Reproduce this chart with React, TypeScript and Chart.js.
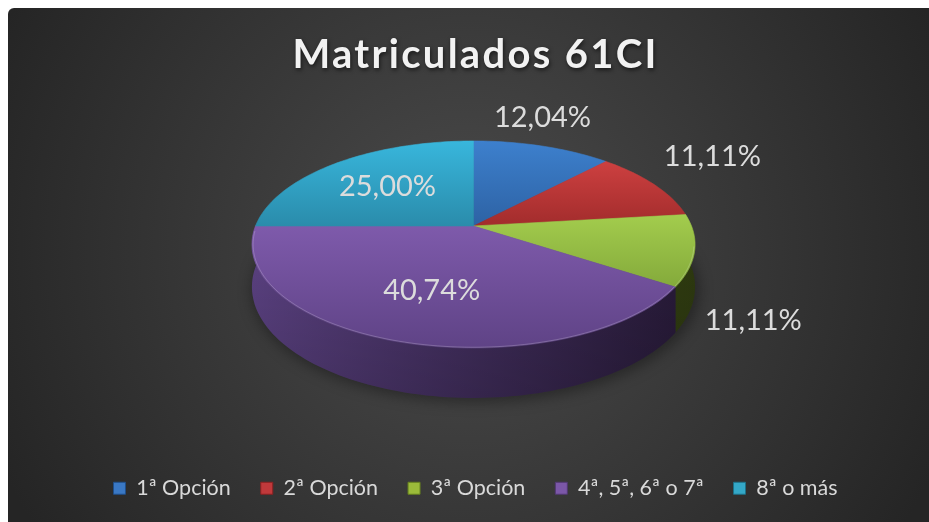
import React, { useEffect, useRef } from "react";
import { Chart, registerables, ArcElement, PieController } from "chart.js";
Chart.register(...registerables);

const categories = ["1ª Opción", "2ª Opción", "3ª Opción", "4ª, 5ª, 6ª o 7ª", "8ª o más"];
const counts = [13, 12, 12, 44, 27];
const topLight = ["#3d80cd", "#cd4040", "#a3cc4d", "#7e5aab", "#38b6dc"];
const topDark = ["#2d62a4", "#a22c2c", "#84aa3b", "#5f4386", "#2a8cab"];
const sideLight = ["#254f86", "#7f2020", "#4a5a1e", "#5c4283", "#1f6f88"];
const sideDark = ["#152d4d", "#4a1212", "#2e3a10", "#261936", "#12414f"];
const legendColors = ["#3a78c4", "#c0393b", "#9bbb3a", "#7b57a8", "#34a8c8"];
const legendBorders = ["#1f4f8a", "#8a2020", "#66801e", "#513873", "#1e7189"];

// perspective projection of the pie disc (layout constants)
const PA = 218;
const PB = 100.2;
const PK = -0.1787;
const PD = 41;

const total = counts.reduce((a, b) => a + b, 0);

function apex(canvas: HTMLCanvasElement) {
  return [canvas.width / 2 + 5, canvas.height * 0.4241];
}

function proj(cx: number, cy: number, th: number, f = 1, drop = 0) {
  const u = Math.cos(th) * f;
  const v = Math.sin(th) * f;
  const den = 1 + PK * v;
  return [cx + (PA * u) / den, cy + (PB * v + drop) / den];
}

class Arc3D extends ArcElement {
  static id = "arc3d";
  static defaults = { ...(ArcElement as any).defaults };
  static defaultRoutes = (ArcElement as any).defaultRoutes;
  draw(ctx: CanvasRenderingContext2D) {
    const self: any = this;
    let i = topLight.indexOf(self.options.backgroundColor);
    if (i < 0) i = 0;
    const s0: number = self.startAngle;
    const e0: number = self.endAngle;
    const [cx, cy] = apex(ctx.canvas);
    const N = Math.max(8, Math.ceil(((e0 - s0) / (2 * Math.PI)) * 240));
    ctx.save();
    // side wall (front only)
    if (s0 < Math.PI - 1e-6 && e0 > 0) {
      const s = Math.max(s0, -0.02);
      const e = e0 >= Math.PI - 1e-6 ? Math.PI + 0.04 : e0;
      const g = ctx.createLinearGradient(cx - PA - 6, 0, cx + PA + 6, 0);
      g.addColorStop(0, sideLight[i]);
      g.addColorStop(1, sideDark[i]);
      ctx.fillStyle = g;
      ctx.beginPath();
      for (let k = 0; k <= N; k++) {
        const a = s + ((e - s) * k) / N;
        const [x, y] = proj(cx, cy, a);
        if (k === 0) ctx.moveTo(x, y);
        else ctx.lineTo(x, y);
      }
      for (let k = N; k >= 0; k--) {
        const a = s + ((e - s) * k) / N;
        const [x, y] = proj(cx, cy, a, 1, PD);
        ctx.lineTo(x, y);
      }
      ctx.closePath();
      ctx.fill();
      const gv = ctx.createLinearGradient(0, cy, 0, cy + 175);
      gv.addColorStop(0, "rgba(0,0,0,0)");
      gv.addColorStop(1, "rgba(0,0,0,0.18)");
      ctx.fillStyle = gv;
      ctx.fill();
    }
    // top face
    const pts: number[][] = [];
    for (let k = 0; k <= N; k++) {
      pts.push(proj(cx, cy, s0 + ((e0 - s0) * k) / N));
    }
    let minY = cy, maxY = cy;
    pts.forEach((p) => {
      minY = Math.min(minY, p[1]);
      maxY = Math.max(maxY, p[1]);
    });
    const gt = ctx.createLinearGradient(0, minY, 0, maxY);
    gt.addColorStop(0, topLight[i]);
    gt.addColorStop(1, topDark[i]);
    ctx.fillStyle = gt;
    ctx.beginPath();
    ctx.moveTo(cx, cy);
    pts.forEach((p) => ctx.lineTo(p[0], p[1]));
    ctx.closePath();
    ctx.fill();
    ctx.strokeStyle = gt;
    ctx.lineWidth = 0.6;
    ctx.stroke();
    // light rim on the front edge
    const rs = Math.max(s0, 0.2);
    const re = Math.min(e0, Math.PI - 0.05);
    if (re > rs) {
      ctx.strokeStyle = "rgba(255,255,255,0.2)";
      ctx.lineWidth = 1;
      ctx.beginPath();
      for (let k = 0; k <= N; k++) {
        const a = rs + ((re - rs) * k) / N;
        const [x, y] = proj(cx, cy, a, 0.995);
        if (k === 0) ctx.moveTo(x, y);
        else ctx.lineTo(x, y);
      }
      ctx.stroke();
    }
    ctx.restore();
  }
}

class Pie3DController extends PieController {
  static id = "pie3d";
  static defaults = { dataElementType: "arc3d" };
}

Chart.register(Arc3D as any, Pie3DController as any);

const deco = {
  id: "deco",
  beforeDraw(chart: any) {
    const { ctx, width, height } = chart;
    ctx.save();
    const g = ctx.createRadialGradient(width * 0.5, height * 0.47, 0, width * 0.5, height * 0.47, width * 0.56);
    g.addColorStop(0, "#4b4b4b");
    g.addColorStop(1, "#252525");
    ctx.fillStyle = g;
    ctx.beginPath();
    ctx.roundRect(0, 0, width + 10, height + 10, [6, 0, 0, 0]);
    ctx.fill();
    ctx.restore();
    const tb = chart.titleBlock;
    if (tb && !tb.__wrapped) {
      const orig = tb.draw.bind(tb);
      tb.draw = (area: any) => {
        const c = chart.ctx;
        c.save();
        c.letterSpacing = "2.3px";
        c.shadowColor = "rgba(0,0,0,0.6)";
        c.shadowBlur = 4;
        c.shadowOffsetX = 1;
        c.shadowOffsetY = 2;
        orig(area);
        c.restore();
      };
      tb.__wrapped = true;
    }
  },
  beforeDatasetsDraw(chart: any) {
    const ctx = chart.ctx;
    const [cx, cy] = apex(ctx.canvas);
    ctx.save();
    ctx.fillStyle = "rgba(0,0,0,0.35)";
    ctx.filter = "blur(7px)";
    ctx.beginPath();
    for (let k = 0; k <= 120; k++) {
      const [x, y] = proj(cx + 2, cy + 3, (k / 120) * 2 * Math.PI, 1.01, PD);
      if (k === 0) ctx.moveTo(x, y);
      else ctx.lineTo(x, y);
    }
    ctx.fill();
    ctx.restore();
  },
  afterDatasetsDraw(chart: any) {
    const ctx = chart.ctx;
    const [cx, cy] = apex(ctx.canvas);
    const arcs = chart.getDatasetMeta(0).data;
    ctx.save();
    ctx.font = "29px Lato";
    ctx.fillStyle = "#dcdcdc";
    ctx.textAlign = "center";
    ctx.textBaseline = "middle";
    arcs.forEach((arc: any, i: number) => {
      const frac = counts[i] / total;
      const mid = (arc.startAngle + arc.endAngle) / 2;
      const label = (frac * 100).toFixed(2).replace(".", ",") + "%";
      const w = ctx.measureText(label).width;
      let x: number, y: number;
      if (frac >= 0.2) {
        [x, y] = proj(cx, cy, mid, 0.6);
      } else {
        const u = Math.cos(mid), v = Math.sin(mid);
        [x, y] = proj(cx, cy, mid, 1, v > 0 ? PD : 0);
        if (Math.abs(u) > 0.5) x += Math.sign(u) * (w / 2 + 10);
        y += Math.sign(v) * 28;
      }
      ctx.fillText(label, x, y);
    });
    ctx.restore();
  },
};

export default function App() {
  const ref = useRef<HTMLCanvasElement | null>(null);
  useEffect(() => {
    if (!ref.current) return;
    const chart = new Chart(ref.current, {
      type: "pie3d" as any,
      data: {
        labels: categories,
        datasets: [
          {
            data: counts,
            borderWidth: 0,
            backgroundColor: topLight,
          },
        ],
      },
      options: {
        responsive: false,
        animation: false,
        events: [],
        layout: { padding: { bottom: 13, left: 14 } },
        plugins: {
          tooltip: { enabled: false },
          title: {
            display: true,
            text: "Matriculados 61CI",
            color: "#f2f2f2",
            font: { family: "Lato", size: 40, weight: "bold" },
            padding: { top: 23, bottom: 20 },
          },
          legend: {
            position: "bottom",
            labels: {
              font: { family: "Lato", size: 21.5 },
              color: "#d9d9d9",
              boxWidth: 12,
              boxHeight: 12,
              padding: 30,
              generateLabels: () =>
                categories.map((t, i) => ({
                  text: t,
                  fillStyle: legendColors[i],
                  strokeStyle: legendBorders[i],
                  lineWidth: 1,
                  fontColor: "#d9d9d9",
                  hidden: false,
                  index: i,
                })),
            },
          },
        },
      } as any,
      plugins: [deco],
    });
    return () => chart.destroy();
  }, []);
  return (
    <div style={{ position: "fixed", left: 8, top: 8, width: 921, height: 514 }}>
      <canvas ref={ref} width={921} height={514} />
    </div>
  );
}
